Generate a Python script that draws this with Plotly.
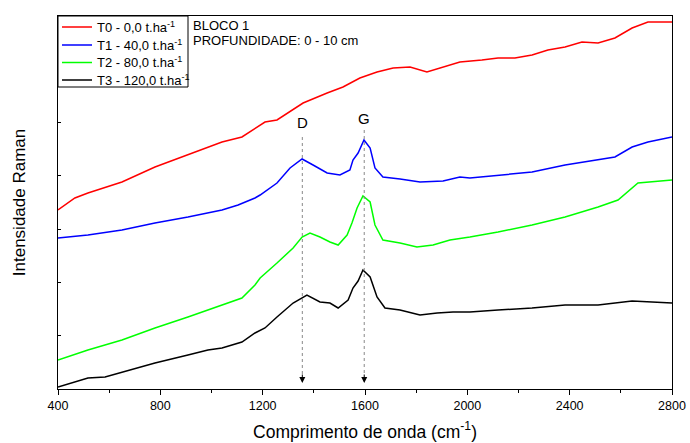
import plotly.graph_objects as go

# Raman shift (cm^-1) and relative intensity (arbitrary units)
x_t0 = [400, 466, 517, 650, 779, 908, 1041, 1119, 1170, 1209, 1256, 1319, 1358, 1452, 1514,
        1580, 1647, 1710, 1776, 1842, 1905, 1971, 2057, 2120, 2186, 2253, 2315, 2382, 2448,
        2511, 2577, 2644, 2706, 2800]
y_t0 = [179, 191, 196, 207, 222, 234, 247, 252, 261, 267, 269, 279, 286, 296, 302,
        311, 317, 321, 322, 317, 322, 327, 329, 331, 331, 334, 339, 342, 347,
        346, 351, 361, 367, 367]

x_t1 = [400, 517, 650, 779, 908, 1041, 1104, 1170, 1190, 1256, 1307, 1354, 1397, 1452, 1502,
        1541, 1553, 1573, 1596, 1620, 1639, 1670, 1737, 1815, 1905, 1971, 2010, 2120, 2253,
        2382, 2511, 2577, 2644, 2706, 2800]
y_t1 = [151, 154, 159, 166, 172, 179, 184, 191, 194, 206, 221, 230, 224, 216, 214,
        219, 229, 236, 249, 241, 221, 212, 210, 207, 208, 212, 211, 214, 217,
        224, 229, 232, 242, 247, 252]

x_t2 = [400, 517, 650, 779, 908, 986, 1041, 1119, 1170, 1190, 1256, 1319, 1354, 1385, 1424,
        1463, 1495, 1530, 1549, 1569, 1592, 1620, 1639, 1670, 1737, 1803, 1866, 1932, 2010,
        2120, 2253, 2382, 2511, 2589, 2667, 2800]
y_t2 = [29, 39, 49, 61, 72, 79, 84, 91, 104, 111, 126, 141, 152, 156, 152,
        147, 144, 154, 166, 181, 193, 187, 164, 149, 146, 142, 144, 149, 152,
        157, 164, 172, 182, 189, 206, 209]

x_t3 = [400, 517, 584, 650, 779, 908, 986, 1041, 1119, 1170, 1209, 1256, 1319, 1373, 1424,
        1463, 1495, 1534, 1553, 1573, 1592, 1620, 1647, 1678, 1737, 1815, 1882, 1944, 2010,
        2120, 2253, 2382, 2511, 2644, 2706, 2800]
y_t3 = [2, 11, 12, 17, 26, 34, 39, 41, 47, 56, 61, 72, 86, 94, 87,
        86, 81, 89, 101, 108, 119, 112, 92, 81, 79, 74, 76, 77, 77,
        79, 81, 84, 84, 88, 87, 86]

names = ["T0 - 0,0 t.ha<sup>-1</sup>", "T1 - 40,0 t.ha<sup>-1</sup>",
         "T2 - 80,0 t.ha<sup>-1</sup>", "T3 - 120,0 t.ha<sup>-1</sup>"]
colors = ["#ff0000", "#0000ff", "#00ff00", "#000000"]

band_labels = ["D", "G"]
band_pos = [1355, 1597]
band_label_y = [267, 271]
band_line_top = [252, 259]

x_ticks = [400, 800, 1200, 1600, 2000, 2400, 2800]

FONT = "Liberation Sans, Arial, sans-serif"

# plot-area geometry in pixels (used only for legend/annotation placement)
W, H = 690, 443
L, R, T, B = 58, 18, 16, 54
PW, PH = W - L - R, H - T - B


def px(xp):
    return (xp - L) / PW


def py(yp):
    return (H - B - yp) / PH


fig = go.Figure()
for xs, ys, nm, c in zip([x_t0, x_t1, x_t2, x_t3], [y_t0, y_t1, y_t2, y_t3], names, colors):
    fig.add_trace(go.Scatter(x=xs, y=ys, mode="lines", name=nm, showlegend=False,
                             line=dict(color=c, width=1.5)))

for lab, xp, ly, lt in zip(band_labels, band_pos, band_label_y, band_line_top):
    fig.add_shape(type="line", x0=xp, x1=xp, y0=lt, y1=14, xref="x", yref="y",
                  line=dict(color="#888888", width=1, dash="dot"))
    fig.add_annotation(x=xp, y=6, ax=0, ay=-10, text="", showarrow=True,
                       arrowhead=2, arrowsize=1.2, arrowwidth=1, arrowcolor="black",
                       xref="x", yref="y")
    fig.add_annotation(x=xp, y=ly, text=lab, showarrow=False,
                       font=dict(size=15, color="black", family=FONT))

# legend box drawn in the upper-left corner
fig.add_shape(type="rect", xref="paper", yref="paper",
              x0=px(58), x1=px(188), y0=py(87), y1=py(16),
              line=dict(color="black", width=1), fillcolor="white", layer="above")
legend_rows = [27, 45, 62.5, 80]
for nm, c, ry in zip(names, colors, legend_rows):
    fig.add_shape(type="line", xref="paper", yref="paper",
                  x0=px(62), x1=px(92), y0=py(ry), y1=py(ry),
                  line=dict(color=c, width=1.5), layer="above")
    fig.add_annotation(x=px(95), y=py(ry), xref="paper", yref="paper",
                       xanchor="left", yanchor="middle", showarrow=False, text=nm,
                       font=dict(size=13, color="black", family=FONT))

fig.add_annotation(x=px(191), y=py(25), xref="paper", yref="paper", xanchor="left",
                   yanchor="middle", showarrow=False, text="BLOCO 1",
                   font=dict(size=13, color="black", family=FONT))
fig.add_annotation(x=px(191), y=py(40), xref="paper", yref="paper", xanchor="left",
                   yanchor="middle", showarrow=False, text="PROFUNDIDADE: 0 - 10 cm",
                   font=dict(size=13, color="black", family=FONT))

fig.update_layout(
    width=W, height=H,
    margin=dict(l=L, r=R, t=T, b=B, autoexpand=False),
    paper_bgcolor="white", plot_bgcolor="white",
    font=dict(family=FONT, color="black"),
    showlegend=False,
    xaxis=dict(range=[400, 2800], tickvals=x_ticks, ticktext=[str(v) for v in x_ticks],
               ticks="outside", ticklen=5, tickwidth=1, tickcolor="black",
               minor=dict(dtick=200, tick0=400, ticks="outside", ticklen=3, tickcolor="black"),
               showline=True, linecolor="black", linewidth=1, mirror=True,
               showgrid=False, zeroline=False, automargin=False,
               tickfont=dict(size=12.5, family=FONT),
               title=dict(text="Comprimento de onda (cm<sup>-1</sup>)",
                          font=dict(size=17.5, family=FONT), standoff=13)),
    yaxis=dict(range=[0, 373], tick0=0, dtick=373 / 7, ticks="inside", ticklen=3,
               tickcolor="black", showticklabels=False,
               showline=True, linecolor="black", linewidth=1, mirror=True,
               showgrid=False, zeroline=False, automargin=False,
               title=dict(text="Intensidade Raman", font=dict(size=17, family=FONT),
                          standoff=27)),
)

fig.write_html("out.html")
